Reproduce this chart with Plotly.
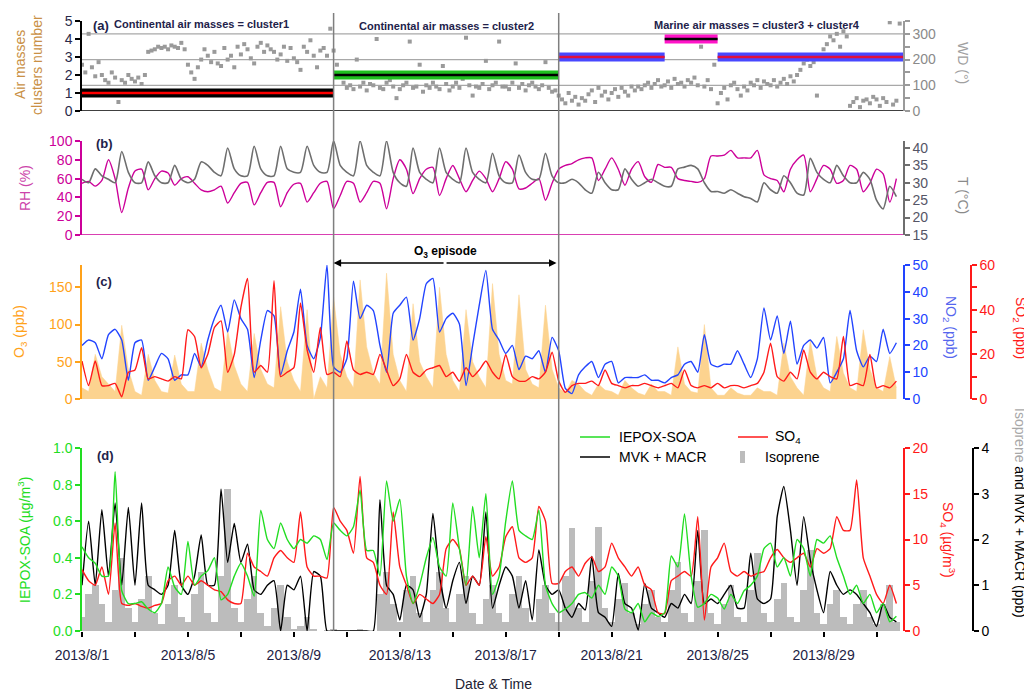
import pandas as pd
import plotly.graph_objects as go

# ---------------- data ----------------
t6 = pd.date_range("2013-08-01 00:00", periods=124, freq="6h")
t3 = pd.date_range("2013-08-01 00:00", periods=248, freq="3h")

wd = [180, 150, 300, 170, 135, 190, 140, 120,
      110, 150, 130, 35, 120, 110, 140, 125,
      115, 130, 105, 140, 230, 235, 240, 250,
      245, 250, 240, 255, 250, 245, 265, 240,
      180, 150, 125, 170, 200, 240, 215, 190,
      230, 185, 175, 245, 200, 215, 170, 250,
      220, 260, 240, 205, 185, 250, 265, 230,
      255, 240, 230, 200, 220, 250, 195, 245,
      205, 190, 160, 250, 230, 275, 215, 170,
      235, 245, 215, 320, 235, 180, 140, 110,
      90, 100, 85, 200, 95, 110, 80, 105,
      100, 280, 90, 85, 110, 120, 95, 50,
      85, 100, 110, 270, 90, 95, 180, 75,
      100, 90, 110, 95, 85, 175, 105, 80,
      95, 110, 90, 125, 285, 100, 60, 95,
      90, 105, 195, 85, 100, 110, 270, 95,
      95, 85, 110, 185, 90, 105, 80, 100,
      110, 95, 85, 100, 190, 90, 75, 80,
      60, 45, 30, 70, 40, 55, 25, 50,
      40, 65, 80, 35, 90, 60, 75, 45,
      70, 85, 55, 90, 75, 60, 95, 80,
      95, 85, 100, 110, 90, 105, 120, 95,
      100, 115, 90, 125, 105, 110, 95, 120,
      110, 130, 100, 250, 95, 120, 85, 180,
      30, 70, 90, 45, 100, 110, 85, 60,
      95, 80, 110, 100, 120, 90, 115, 105,
      100, 120, 95, 110, 125, 105, 135, 115,
      140, 160, 185, 200, 175, 190, 60, 210,
      240, 260, 290, 275, 300, 250, 310, 290,
      20, 35, 50, 15, 40, 45, 30, 55,
      45, 20, 50, 35, 345, 25, 40, 340]

rh = [55, 57, 52, 58,  80, 60, 24, 50,  68, 70, 48, 60,  68, 66, 53, 60,
      62, 55, 48, 46,  48, 52, 34, 45,  55, 56, 32, 45,  56, 56, 30, 45,
      54, 55, 35, 45,  55, 57, 28, 42,  57, 55, 35, 45,  57, 55, 28, 60,
      80, 70, 44, 60,  70, 72, 42, 60,  74, 60, 46, 58,  68, 60, 46, 60,
      78, 70, 49, 50,  55, 60, 37, 55,  70, 74, 76, 80,  82, 82, 58, 70,
      82, 70, 53, 70,  78, 62, 56, 75,  72, 72, 60, 58,  57, 56, 60, 84,
      84, 85, 90, 82,  82, 82, 90, 64,  60, 58, 46, 70,  80, 85, 46, 60,
      74, 70, 55, 58,  74, 70, 46, 55,  70, 65, 35, 60]

temp = [31, 30, 34, 32,  31, 30, 39, 33,  30, 30, 36, 32,  30, 30, 35, 31,
        30, 31, 36, 35,  33, 32, 40, 34,  32, 32, 40.5, 34,  32, 32, 40.5, 34,
        33, 33, 40.5, 35,  33, 33, 42, 35,  33, 32, 42, 35,  33, 32, 42, 33,
        30, 29, 40, 33,  31, 30, 40, 33,  31, 30, 40, 33,  31, 30, 38.5, 32,
        30, 30, 38, 33,  31, 31, 38.5, 32,  30, 30, 31, 30,  28, 27, 33, 30,
        28, 28, 34, 31,  29, 30, 31, 30,  29, 29, 34, 34.5,  35, 34, 30, 27.5,
        27.5, 27, 28, 27,  26, 25.5, 24.5, 30,  28, 27, 32, 30,  27, 26.5, 37, 33,
        31, 30, 35, 32,  30, 30, 33, 31,  25, 22.5, 29, 26]

o3 = [15, 10, 60, 30,  20, 10, 99, 40,  10, 5, 60, 25,  10, 8, 59, 20,
      10, 10, 75, 40,  15, 10, 93, 45,  20, 10, 88, 40,  20, 15, 124, 50,
      25, 10, 120, 0,  30, 15, 137, 60,  30, 15, 160, 70,  35, 20, 169, 60,
      25, 10, 128, 50,  30, 15, 150, 60,  25, 10, 120, 50,  30, 15, 155, 60,
      25, 20, 140, 40,  20, 15, 126, 40,  15, 8, 25, 20,  10, 5, 20, 12,
      10, 5, 25, 15,  8, 5, 20, 10,  10, 5, 70, 20,  10, 8, 100, 15,
      5, 5, 15, 8,  5, 5, 15, 10,  10, 5, 75, 30,  15, 5, 79, 30,
      15, 10, 84, 35,  15, 10, 93, 40,  15, 10, 57, 15]

no2 = [20, 22, 21, 15,  24, 26, 22, 7,  21, 22, 7, 12,  17, 15, 7, 9,
       9, 17, 12, 22,  30, 35, 25, 37,  30, 26, 8, 22,  33, 31, 9, 18,
       25, 41, 20, 15,  23, 50, 12, 10,  15, 44, 30, 35,  33, 20, 10, 32,
       35, 38, 22, 30,  43, 45, 25, 30,  32, 28, 5, 20,  35, 48, 26, 22,
       17, 20, 11, 16,  15, 18, 10, 23,  18, 4, 2, 9,  12, 14, 8, 13,
       14, 6, 8, 8,  8, 9, 7, 7,  6, 8, 9, 13,  14, 10, 24, 13,
       12, 13, 13, 18,  13, 8, 15, 34,  22, 31, 17, 29,  13, 20, 22, 19,
       23, 6, 10, 15,  33, 18, 12, 16,  14, 26, 17, 21]

so2 = [17, 6, 17, 6,  6, 7, 1, 12,  13, 23, 9, 10,  9, 8, 10, 9,
       31, 28, 14, 20,  32, 35, 12, 20,  41, 54, 12, 15,  12, 53, 10, 12,
       14, 43, 22, 12,  32, 11, 12, 10,  26, 13, 11, 12,  11, 20, 13, 6,
       9, 20, 12, 10,  13, 14, 15, 10,  12, 8, 14, 10,  13, 17, 12, 9,
       20, 10, 8, 8,  10, 9, 12, 21,  8, 3, 6, 7,  7, 8, 6, 13,
       7, 6, 5, 6,  6, 7, 6, 5,  6, 7, 5, 13,  6, 5, 6, 5,
       7, 5, 6, 6,  5, 6, 7, 12,  25, 10, 8, 12,  9, 22, 12, 9,
       12, 10, 9, 28,  6, 7, 6, 20,  5, 6, 5, 8]

iepox = [0.46, 0.40, 0.37, 0.30,  0.30, 0.87, 0.22, 0.15,  0.15, 0.16, 0.12, 0.10,  0.15, 0.35, 0.24, 0.20,
         0.49, 0.25, 0.30, 0.33,  0.40, 0.17, 0.20, 0.30,  0.37, 0.30, 0.19, 0.66,  0.50, 0.45, 0.59, 0.50,
         0.45, 0.50, 0.48, 0.52,  0.50, 0.39, 0.59, 0.55,  0.52, 0.57, 0.77, 0.44,  0.44, 0.30, 0.82, 0.60,
         0.72, 0.30, 0.15, 0.25,  0.40, 0.51, 0.35, 0.30,  0.70, 0.45, 0.25, 0.68,  0.40, 0.75, 0.20, 0.30,
         0.60, 0.82, 0.55, 0.52,  0.50, 0.66, 0.25, 0.15,  0.10, 0.12, 0.15, 0.20,  0.21, 0.18, 0.25, 0.20,
         0.35, 0.30, 0.12, 0.10,  0.15, 0.05, 0.10, 0.08,  0.10, 0.41, 0.35, 0.64,  0.30, 0.13, 0.15, 0.20,
         0.18, 0.12, 0.20, 0.15,  0.22, 0.25, 0.30, 0.45,  0.48, 0.35, 0.40, 0.30,  0.50, 0.45, 0.30, 0.50,
         0.48, 0.52, 0.40, 0.30,  0.20, 0.25, 0.15, 0.20,  0.10, 0.15, 0.05, 0.08]

so4 = [6.7, 5.5, 5, 7,  4, 11.8, 3, 2.8,  3, 2.7, 2.5, 2.8,  3, 5.5, 6, 5,
       6, 5, 5.5, 5,  4.5, 4.3, 3.4, 3,  3, 8.5, 7, 6.5,  6, 8, 8.8, 8,
       7.5, 13, 7, 6,  6, 5.8, 13.5, 12,  11, 8.5, 16.9, 8,  7.5, 5, 4, 13,
       7, 5, 3, 4,  3.5, 3, 4, 9,  10, 9, 5, 6,  5, 10.3, 6, 7,
       10.3, 11.4, 8, 7.5,  8, 13.6, 12, 5.2,  5.2, 6.5, 7, 6,  7.4, 8.1, 6.5, 7,
       9.6, 8, 7, 6,  7, 5, 4.5, 2,  1.9, 5.5, 6, 6.5,  6, 12.5, 1.2, 7,
       8, 9.6, 6.5, 6,  6.5, 6, 6.3, 6.5,  8, 8.9, 8, 7.5,  8, 8.5, 7, 9,
       8.5, 9, 12.5, 11,  11, 16.5, 8, 6,  4, 3, 5, 3]

mvk = [1.0, 2.4, 1.0, 2.65,  1.2, 2.8, 1.0, 2.7,  1.0, 2.8, 1.0, 0.9,  0.8, 1.0, 2.2, 1.0,
       0.8, 1.2, 2.1, 1.0,  1.0, 3.1, 1.5, 2.35,  1.5, 1.9, 0.9, 0.8,  1.0, 1.1, 0.0, 1.0,
       0.9, 1.2, 0.0, 1.3,  1.2, 0.0, 0.0, 0.0,  0.0, 0.0, 0.0, 0.0,  0.0, 2.87, 1.0, 0.8,
       0.24, 1.0, 0.9, 0.3,  0.8, 2.57, 1.2, 0.5,  1.1, 1.5, 0.6, 1.2,  1.0, 2.6, 0.5, 1.0,
       1.4, 1.2, 0.5, 1.1,  0.24, 1.77, 1.0, 0.8,  0.9, 0.5, 0.3, 0.6,  0.46, 1.63, 0.4, 0.3,
       0.1, 1.26, 0.6, 0.5,  0.02, 1.04, 0.5, 0.4,  0.3, 0.6, 0.5, 0.8,  0.6, 2.2, 0.6, 0.7,
       0.6, 0.8, 1.0, 0.5,  0.5, 1.7, 0.7, 0.6,  0.7, 2.5, 3.16, 2.2,  1.0, 2.5, 1.55, 0.9,
       0.4, 1.3, 1.0, 0.8,  0.9, 0.8, 0.6, 0.4,  0.1, 0.6, 0.3, 0.2]

isoprene = [0.3, 0.8, 1.0, 0.6,  0.2, 0.9, 1.6, 0.5,  0.2, 0.7, 1.2, 0.4,  0.15, 0.6, 1.0, 0.3,
            0.2, 0.8, 1.3, 0.4,  0.2, 1.2, 3.1, 0.5,  0.2, 0.7, 1.2, 0.4,  0.1, 0.5, 1.0, 0.3,
            0.05, 0.1, 0.3, 0.05,  0.0, 0.02, 0.05, 0.0,  0.0, 0.02, 0.05, 0.0,  0.0, 0.8, 1.3, 0.6,
            0.2, 0.9, 1.2, 0.4,  0.2, 0.9, 1.3, 0.5,  0.2, 0.8, 1.2, 0.4,  0.15, 0.7, 1.0, 0.4,
            0.2, 0.8, 1.2, 0.5,  0.2, 0.7, 1.0, 0.4,  0.2, 1.2, 2.25, 0.5,  0.2, 1.1, 2.28, 0.5,
            0.2, 0.7, 1.04, 0.4,  0.15, 0.6, 0.9, 0.3,  0.2, 0.9, 1.5, 0.4,  0.2, 1.1, 2.2, 0.4,
            0.15, 0.6, 1.0, 0.3,  0.2, 0.9, 1.7, 0.4,  0.2, 0.7, 1.04, 0.3,  0.2, 0.9, 1.77, 0.4,
            0.15, 0.6, 0.9, 0.3,  0.15, 0.6, 0.9, 0.3,  0.15, 0.6, 1.0, 0.2]

cluster_start = ["2013-08-01 00:00", "2013-08-10 12:00", "2013-08-19 00:00", "2013-08-23 00:00", "2013-08-25 00:00"]
cluster_end = ["2013-08-10 12:00", "2013-08-19 00:00", "2013-08-23 00:00", "2013-08-25 00:00", "2013-09-01 00:00"]
cluster_id = [1, 2, 3, 4, 3]
cluster_labels = ["Continental air masses = cluster1", "Continental air masses = cluster2",
                  "Marine air masses = cluster3 + cluster4"]
cluster_label_x = ["2013-08-05 12:00", "2013-08-14 18:00", "2013-08-26 12:00"]

divider_times = ["2013-08-10 12:00", "2013-08-19 00:00"]
episode = ["2013-08-10 12:00", "2013-08-18 22:00"]

xtick_vals = pd.date_range("2013-08-01", "2013-08-31", freq="2D")
xtick_text = [f"2013/8/{d.day}" if (d.day - 1) % 4 == 0 else "" for d in xtick_vals]

# ---------------- style ----------------
FONT = "Arial, Liberation Sans, sans-serif"
GREEN = "#22dd22"
RED = "#ff1a1a"
BLUE = "#2244ff"
ORANGE = "#ffa21a"
O3FILL = "#fcd38f"
MAG = "#cc0099"
TGREY = "#6e6e6e"
WDGREY = "#9a9a9a"
ISOGREY = "#bcbcbc"
NAVY = "#22224a"

# the page body has an 8px margin, so the figure is 8px smaller and coordinates are shifted
OFF = 8
W, H = 1032 - OFF, 692 - OFF
def px(xs):
    return (xs - OFF) / W
def py(ys):
    return 1 - (ys - OFF) / H

XD = [px(82), px(903)]
DOM_A = [py(111), py(21)]
DOM_B = [py(235), py(141)]
DOM_C = [py(399), py(265)]
DOM_D = [py(631), py(448)]
PX_PER_DAY = (903 - 82) / 31

fig = go.Figure()
SM = dict(shape="spline", smoothing=0.7)
SM2 = dict(shape="spline", smoothing=0.5)

# panel (d): base axis y = isoprene/MVK
fig.add_trace(go.Bar(x=t6, y=isoprene, width=6 * 3600 * 1000, marker=dict(color=ISOGREY, line=dict(width=0)),
                     xaxis="x", yaxis="y", showlegend=False))
fig.add_trace(go.Scatter(x=t6, y=mvk, mode="lines", line=dict(color="black", width=1.4, **SM2),
                         xaxis="x", yaxis="y", showlegend=False))
fig.add_trace(go.Scatter(x=t6, y=so4, mode="lines", line=dict(color=RED, width=1.4, **SM2),
                         xaxis="x", yaxis="y2", showlegend=False))
fig.add_trace(go.Scatter(x=t6, y=iepox, mode="lines", line=dict(color=GREEN, width=1.4, **SM2),
                         xaxis="x", yaxis="y3", showlegend=False))

# panel (c)
fig.add_trace(go.Scatter(x=t6, y=o3, mode="lines", fill="tozeroy", fillcolor=O3FILL,
                         line=dict(color=O3FILL, width=0.5), xaxis="x", yaxis="y4", showlegend=False))
fig.add_trace(go.Scatter(x=t6, y=no2, mode="lines", line=dict(color=BLUE, width=1.4, **SM2),
                         xaxis="x", yaxis="y5", showlegend=False))
fig.add_trace(go.Scatter(x=t6, y=so2, mode="lines", line=dict(color=RED, width=1.4, **SM2),
                         xaxis="x", yaxis="y6", showlegend=False))

# panel (b)
fig.add_trace(go.Scatter(x=t6, y=rh, mode="lines", line=dict(color=MAG, width=1.4, **SM),
                         xaxis="x", yaxis="y7", showlegend=False))
fig.add_trace(go.Scatter(x=t6, y=temp, mode="lines", line=dict(color=TGREY, width=1.6, **SM),
                         xaxis="x", yaxis="y8", showlegend=False))

# panel (a)
fig.add_trace(go.Scatter(x=t3, y=wd, mode="markers", marker=dict(symbol="square", size=4, color=WDGREY),
                         xaxis="x", yaxis="y9", showlegend=False))
fill_col = {1: "black", 2: "#1fbf1f", 3: "#4848ff", 4: "#ff14c8"}
core_col = {1: "#ff0000", 2: "black", 3: "#e0103c", 4: "black"}
for s, e, c in zip(cluster_start, cluster_end, cluster_id):
    fig.add_trace(go.Scatter(x=[s, e], y=[c, c], mode="lines", line=dict(color=fill_col[c], width=9),
                             xaxis="x", yaxis="y10", showlegend=False))
    fig.add_trace(go.Scatter(x=[s, e], y=[c, c], mode="lines", line=dict(color=core_col[c], width=2.5),
                             xaxis="x", yaxis="y10", showlegend=False))

def yax(color, tickcolor=None, **kw):
    d = dict(showgrid=False, zeroline=False, showline=True, linecolor=color, linewidth=1.5,
             ticks="outside", ticklen=5, tickwidth=1.5, tickcolor=color, automargin=False,
             tickfont=dict(size=14, color=tickcolor or color, family=FONT))
    d.update(kw)
    return d

layout = dict(
    width=W, height=H, margin=dict(l=0, r=0, t=0, b=0, pad=0, autoexpand=False),
    paper_bgcolor="white", plot_bgcolor="rgba(0,0,0,0)",
    font=dict(family=FONT, size=14, color="black"),
    showlegend=False, bargap=0,
    xaxis=dict(domain=XD, type="date", range=["2013-08-01", "2013-09-01"], anchor="y",
               showgrid=False, zeroline=False, showline=False, automargin=False,
               tickmode="array", tickvals=list(xtick_vals), ticktext=xtick_text,
               ticks="outside", ticklen=5, tickwidth=1.5, tickcolor="black",
               tickfont=dict(size=14, color="#222244", family=FONT), ticklabelstandoff=6),
    yaxis=yax("black", domain=DOM_D, range=[0, 4], anchor="free", position=px(973), side="right",
              tickvals=[0, 1, 2, 3, 4]),
    yaxis2=yax(RED, overlaying="y", side="right", anchor="x", range=[0, 20], tickvals=[0, 5, 10, 15, 20]),
    yaxis3=yax(GREEN, overlaying="y", side="left", anchor="x", range=[0, 1],
               tickvals=[0, 0.2, 0.4, 0.6, 0.8, 1.0], tickformat=".1f"),
    yaxis4=yax(ORANGE, domain=DOM_C, anchor="x", side="left", range=[0, 180], tickvals=[0, 50, 100, 150]),
    yaxis5=yax(BLUE, overlaying="y4", side="right", anchor="x", range=[0, 50],
               tickvals=[0, 10, 20, 30, 40, 50]),
    yaxis6=yax(RED, overlaying="y4", side="right", anchor="free", position=px(971), range=[0, 60],
               tickvals=[0, 10, 20, 30, 40, 50, 60], ticktext=["0", "", "20", "", "40", "", "60"]),
    yaxis7=yax(MAG, domain=DOM_B, anchor="x", side="left", range=[0, 100],
               tickvals=[0, 20, 40, 60, 80, 100]),
    yaxis8=yax(TGREY, tickcolor="#555566", overlaying="y7", side="right", anchor="x", range=[15, 42],
               tickvals=[15, 20, 25, 30, 35, 40]),
    yaxis9=yax(WDGREY, tickcolor="#8a8a8a", domain=DOM_A, anchor="x", side="right", range=[0, 350],
               tickvals=[0, 50, 100, 150, 200, 250, 300, 350],
               ticktext=["0", "", "100", "", "200", "", "300", ""]),
    yaxis10=yax("black", tickcolor="#2a2a4a", overlaying="y9", side="left", anchor="x", range=[0, 5],
                tickvals=[0, 1, 2, 3, 4, 5]),
)
fig.update_layout(**layout)

shapes = []
for g in [100, 200, 300]:
    shapes.append(dict(type="line", xref="paper", yref="y9", x0=XD[0], x1=XD[1], y0=g, y1=g,
                       line=dict(color="#a8a8a8", width=1.3), layer="below"))
shapes.append(dict(type="line", xref="paper", yref="y9", x0=XD[0], x1=XD[1], y0=0, y1=0,
                   line=dict(color="black", width=1.5)))
shapes.append(dict(type="line", xref="paper", yref="y7", x0=XD[0], x1=XD[1], y0=0, y1=0,
                   line=dict(color=MAG, width=1.5)))
for t in divider_times:
    shapes.append(dict(type="line", xref="x", yref="paper", x0=t, x1=t, y0=py(631), y1=py(13),
                       line=dict(color="#7f7f7f", width=1.5)))
shapes.append(dict(type="line", xref="paper", yref="paper", x0=px(580), x1=px(610), y0=py(437), y1=py(437),
                   line=dict(color=GREEN, width=1.5)))
shapes.append(dict(type="line", xref="paper", yref="paper", x0=px(738), x1=px(768), y0=py(437), y1=py(437),
                   line=dict(color=RED, width=1.5)))
shapes.append(dict(type="line", xref="paper", yref="paper", x0=px(580), x1=px(610), y0=py(457), y1=py(457),
                   line=dict(color="black", width=1.5)))
shapes.append(dict(type="rect", xref="paper", yref="paper", x0=px(740), x1=px(745), y0=py(463), y1=py(451),
                   fillcolor=ISOGREY, line=dict(width=0)))
fig.update_layout(shapes=shapes)

ann = []
def text(x, y, s, size=14, color="black", angle=0, xanchor="center", bold=False, xref="paper"):
    if bold:
        s = "<b>" + s + "</b>"
    ann.append(dict(x=x, y=y, xref=xref, yref="paper", text=s, showarrow=False, textangle=angle,
                    xanchor=xanchor, yanchor="middle", font=dict(size=size, color=color, family=FONT)))

text(px(101), py(26), "(a)", 13, NAVY, bold=True)
text(px(104), py(143), "(b)", 13, NAVY, bold=True)
text(px(104), py(281), "(c)", 13, NAVY, bold=True)
text(px(105), py(455), "(d)", 13, NAVY, bold=True)
for lab, lx, ly in zip(cluster_labels, cluster_label_x, [24, 26, 25]):
    text(lx, py(ly), lab, 11, NAVY, bold=True, xref="x")
text("2013-08-14 17:00", py(252), "O<sub>3</sub> episode", 12, "black", bold=True, xref="x")
half_px = (pd.Timestamp(episode[1]) - pd.Timestamp(episode[0])).total_seconds() / 86400 * PX_PER_DAY / 2
for tip, sign in [(episode[0], 1), (episode[1], -1)]:
    ann.append(dict(x=tip, y=py(263), xref="x", yref="paper", ax=sign * half_px, ay=0,
                    axref="pixel", ayref="pixel", showarrow=True, arrowhead=2, arrowsize=1,
                    arrowwidth=1.5, arrowcolor="black", text=""))

text(px(20), py(65), "Air masses", 14, "#c99045", angle=-90)
text(px(37), py(65), "clusters number", 14, "#c99045", angle=-90)
text(px(25), py(188), "RH (%)", 14, "#cc44aa", angle=-90)
text(px(20), py(332), "O<sub>3</sub> (ppb)", 14, ORANGE, angle=-90)
text(px(24), py(540), "IEPOX-SOA (µg/m<sup>3</sup>)", 14, GREEN, angle=-90)
text(px(963), py(63), "WD (°)", 14, "#a0a0a0", angle=90)
text(px(963), py(195), "T (°C)", 14, "#8a8a8a", angle=90)
text(px(950), py(327), "NO<sub>2</sub> (ppb)", 14, "#5566ee", angle=90)
text(px(1020), py(328), "SO<sub>2</sub> (ppb)", 14, RED, angle=90)
text(px(948), py(540), "SO<sub>4</sub> (µg/m<sup>3</sup>)", 14, RED, angle=90)
text(px(1020), py(513), '<span style="color:#a8a8a8">Isoprene</span> and MVK + MACR (ppb)', 14, "black", angle=90)
text(px(493), py(684), "Date &amp; Time", 14, "#222233")
text(px(617), py(437), "IEPOX-SOA", 14, "black", xanchor="left")
text(px(773), py(437), "SO<sub>4</sub>", 14, "black", xanchor="left")
text(px(617), py(457), "MVK + MACR", 14, "black", xanchor="left")
text(px(763), py(457), "Isoprene", 14, "black", xanchor="left")

fig.update_layout(annotations=ann)
fig.write_html("out.html")
